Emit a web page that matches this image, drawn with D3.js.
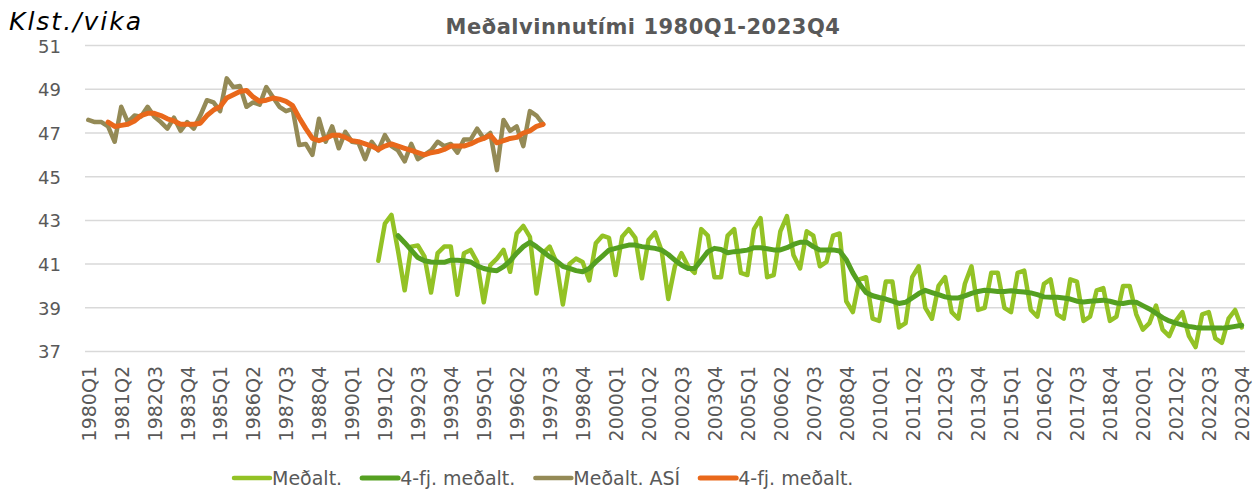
<!DOCTYPE html>
<html>
<head>
<meta charset="utf-8">
<script src="https://cdn.jsdelivr.net/npm/d3@7"></script>
<style>
  body { margin: 0; background: #fff; }
  svg { display: block; }
  text { font-family: "DejaVu Sans", sans-serif; }
</style>
</head>
<body>
<div id="chart"></div>
<script>
const width = 1253;
const height = 491;

// first quarter of each series
const firstYear = 1980;
const lastYear = 2023;

const tickLabels = ['1980Q1', '1981Q2', '1982Q3', '1983Q4', '1985Q1', '1986Q2', '1987Q3', '1988Q4',
    '1990Q1', '1991Q2', '1992Q3', '1993Q4', '1995Q1', '1996Q2', '1997Q3', '1998Q4', '2000Q1',
    '2001Q2', '2002Q3', '2003Q4', '2005Q1', '2006Q2', '2007Q3', '2008Q4', '2010Q1', '2011Q2',
    '2012Q3', '2013Q4', '2015Q1', '2016Q2', '2017Q3', '2018Q4', '2020Q1', '2021Q2', '2022Q3', '2023Q4'];

const yTicks = [37, 39, 41, 43, 45, 47, 49, 51];

// Meðalt. (1991Q1 - 2023Q4)
const medaltStart = '1991Q1';
const medalt = [
    41.15, 42.85, 43.25, 41.6,
    39.8, 41.8, 41.85, 41.35,
    39.7, 41.5, 41.8, 41.8,
    39.6, 41.5, 41.65, 41.1,
    39.25, 40.95, 41.25, 41.65,
    40.65, 42.4, 42.75, 42.25,
    39.65, 41.5, 41.8, 41.1,
    39.15, 41.0, 41.25, 41.1,
    40.25, 41.95, 42.3, 42.2,
    40.5, 42.25, 42.6, 42.2,
    40.35, 42.1, 42.45, 41.6,
    39.4, 40.9, 41.5, 40.9,
    40.6, 42.6, 42.3, 40.4,
    40.4, 42.3, 42.6, 40.6,
    40.5, 42.6, 43.1, 40.4,
    40.5, 42.5, 43.2, 41.4,
    40.8, 42.5, 42.3, 40.9,
    41.1, 42.3, 42.4, 39.3,
    38.8, 40.3, 40.4, 38.5,
    38.4, 40.2, 40.2, 38.1,
    38.3, 40.4, 40.9, 39.0,
    38.5, 40.0, 40.4, 38.8,
    38.5, 40.1, 40.9, 38.9,
    39.0, 40.6, 40.6, 39.0,
    38.8, 40.6, 40.7, 38.9,
    38.6, 40.1, 40.3, 38.7,
    38.5, 40.3, 40.2, 38.4,
    38.6, 39.8, 39.9, 38.4,
    38.6, 40.0, 40.0, 38.7,
    38.0, 38.3, 39.1, 38.0,
    37.7, 38.4, 38.8, 37.7,
    37.2, 38.7, 38.8, 37.6,
    37.4, 38.5, 38.9, 38.1
];

// 4-fj. meðalt. (1991Q4 - 2023Q4)
const medalt4Start = '1991Q4';
const medalt4 = [
    42.3,
    41.98, 41.64, 41.3, 41.15,
    41.1, 41.08, 41.08, 41.18,
    41.18, 41.15, 41.1, 40.92,
    40.8, 40.73, 40.7, 40.88,
    41.15, 41.5, 41.8, 42.0,
    41.8, 41.57, 41.34, 41.15,
    40.9, 40.8, 40.7, 40.65,
    40.8, 41.1, 41.37, 41.64,
    41.72, 41.8, 41.87, 41.87,
    41.8, 41.76, 41.72, 41.64,
    41.44, 41.18, 40.96, 40.8,
    40.8, 41.18, 41.57, 41.72,
    41.67, 41.52, 41.57, 41.6,
    41.64, 41.75, 41.75, 41.7,
    41.65, 41.65, 41.75, 41.9,
    42.0, 42.0, 41.8, 41.65,
    41.65, 41.65, 41.6, 41.2,
    40.6, 40.1, 39.7, 39.55,
    39.47, 39.4, 39.3, 39.2,
    39.25, 39.45, 39.65, 39.8,
    39.7, 39.6, 39.5, 39.45,
    39.45, 39.55, 39.66, 39.75,
    39.8, 39.78, 39.75, 39.75,
    39.78, 39.75, 39.72, 39.68,
    39.6, 39.5, 39.48, 39.48,
    39.45, 39.4, 39.3, 39.27,
    39.3, 39.32, 39.35, 39.3,
    39.22, 39.2, 39.25, 39.25,
    39.1, 38.95, 38.75, 38.55,
    38.4, 38.3, 38.22, 38.15,
    38.1, 38.08, 38.07, 38.07,
    38.07, 38.1, 38.15, 38.2
];

// Meðalt. ASÍ (1980Q1 - 1997Q2)
const asiStart = '1980Q1';
const asi = [
    47.6, 47.5, 47.5, 47.3,
    46.6, 48.2, 47.5, 47.8,
    47.75, 48.2, 47.75, 47.5,
    47.2, 47.7, 47.1, 47.5,
    47.2, 47.8, 48.5, 48.4,
    48.0, 49.5, 49.1, 49.15,
    48.2, 48.4, 48.3, 49.1,
    48.65, 48.2, 48.0, 48.1,
    46.45, 46.5, 46.0, 47.65,
    46.6, 47.3, 46.3, 47.05,
    46.6, 46.55, 45.8, 46.6,
    46.2, 46.9, 46.4, 46.2,
    45.7, 46.5, 45.8, 46.0,
    46.2, 46.6, 46.4, 46.5,
    46.1, 46.7, 46.7, 47.2,
    46.75, 47.0, 45.3, 47.6,
    47.1, 47.3, 46.4, 48.0,
    47.8, 47.4
];

// 4-fj. meðalt. ASÍ (1980Q4 - 1997Q2)
const asi4Start = '1980Q4';
const asi4 = [
    47.5,
    47.3, 47.35, 47.4, 47.55,
    47.8, 47.9, 47.9, 47.8,
    47.65, 47.55, 47.4, 47.4,
    47.4, 47.45, 47.8, 48.05,
    48.2, 48.6, 48.75, 48.9,
    48.95, 48.65, 48.45, 48.5,
    48.6, 48.55, 48.45, 48.25,
    47.7, 47.2, 46.75, 46.65,
    46.75, 46.9, 46.9, 46.8,
    46.65, 46.6, 46.5, 46.4,
    46.25, 46.4, 46.5, 46.4,
    46.3, 46.2, 46.1, 46.0,
    46.1, 46.15, 46.25, 46.4,
    46.4, 46.4, 46.5, 46.65,
    46.75, 46.9, 46.55, 46.65,
    46.75, 46.8, 47.0, 47.1,
    47.3, 47.4
];

const quarters = [];
for (let yr = firstYear; yr <= lastYear; yr++) {
    for (let q = 1; q <= 4; q++) quarters.push(`${yr}Q${q}`);
}

const seriesList = [
    { name: 'Meðalt. ASÍ', start: asiStart, values: asi, color: '#948a56', width: 4.5 },
    { name: '4-fj. meðalt.', start: asi4Start, values: asi4, color: '#e9681b', width: 5 },
    { name: 'Meðalt.', start: medaltStart, values: medalt, color: '#93c225', width: 4.5 },
    { name: '4-fj. meðalt.', start: medalt4Start, values: medalt4, color: '#55a021', width: 5 }
];
const legendOrder = [2, 3, 0, 1];

const svg = d3.select('#chart')
    .append('svg')
    .attr('width', width)
    .attr('height', height);

const plotLeft = 85;
const plotRight = 1245;

const x = d3.scalePoint()
    .domain(quarters)
    .range([plotLeft, plotRight])
    .padding(0.5);

const y = d3.scaleLinear()
    .domain([37, 51])
    .range([351.5, 45.6]);

// GRIDLINES
svg.append('g')
    .selectAll('line')
    .data(yTicks)
    .join('line')
    .attr('x1', plotLeft)
    .attr('x2', plotRight)
    .attr('y1', d => y(d))
    .attr('y2', d => y(d))
    .attr('stroke', '#d9d9d9')
    .attr('stroke-width', 1.5);

// Y AXIS LABELS
const yAxis = d3.axisLeft(y)
    .tickValues(yTicks)
    .tickSize(0)
    .tickPadding(0);

svg.append('g')
    .attr('transform', 'translate(61 0)')
    .call(yAxis)
    .call(g => g.select('.domain').remove())
    .selectAll('text')
    .attr('fill', '#595959')
    .attr('font-size', 18)
    .attr('font-family', '"DejaVu Sans", sans-serif')
    .attr('dy', '0.36em');

// X AXIS LABELS
const xAxis = d3.axisBottom(x)
    .tickValues(tickLabels)
    .tickSize(0)
    .tickPadding(0);

svg.append('g')
    .attr('transform', 'translate(0 366)')
    .call(xAxis)
    .call(g => g.select('.domain').remove())
    .selectAll('text')
    .attr('fill', '#595959')
    .attr('font-size', 19)
    .attr('font-family', '"DejaVu Sans", sans-serif')
    .attr('text-anchor', 'end')
    .attr('transform', 'rotate(-90)')
    .attr('x', 0)
    .attr('y', 0)
    .attr('dy', '0.36em');

// LINES
const line = d3.line()
    .x(d => x(d.q))
    .y(d => y(d.v));

const toPoints = s => {
    const i0 = quarters.indexOf(s.start);
    return s.values.map((v, i) => ({ q: quarters[i0 + i], v }));
};

svg.append('g')
    .selectAll('path')
    .data(seriesList)
    .join('path')
    .attr('d', s => line(toPoints(s)))
    .attr('fill', 'none')
    .attr('stroke', s => s.color)
    .attr('stroke-width', s => s.width)
    .attr('stroke-linejoin', 'round')
    .attr('stroke-linecap', 'round');

// TITLES
svg.append('text')
    .attr('x', 643)
    .attr('y', 34)
    .attr('text-anchor', 'middle')
    .attr('font-size', 21)
    .attr('font-weight', 'bold')
    .attr('letter-spacing', 0.5)
    .attr('fill', '#595959')
    .text('Meðalvinnutími 1980Q1-2023Q4');

svg.append('text')
    .attr('x', 9)
    .attr('y', 30)
    .attr('font-size', 25)
    .attr('font-style', 'italic')
    .attr('letter-spacing', 2)
    .attr('fill', '#000')
    .text('Klst./vika');

// LEGEND
const legend = svg.append('g').attr('transform', 'translate(234 478)');
let lx = 0;
legendOrder.forEach(k => {
    const s = seriesList[k];
    const item = legend.append('g').attr('transform', `translate(${lx} 0)`);
    item.append('line')
        .attr('x1', 0).attr('x2', 36)
        .attr('y1', 0).attr('y2', 0)
        .attr('stroke', s.color)
        .attr('stroke-width', s.width)
        .attr('stroke-linecap', 'round');
    const t = item.append('text')
        .attr('x', 38)
        .attr('y', 0)
        .attr('dy', '0.36em')
        .attr('font-size', 19)
        .attr('fill', '#595959')
        .text(s.name);
    lx += 38 + t.node().getComputedTextLength() + 20;
});
</script>
</body>
</html>
